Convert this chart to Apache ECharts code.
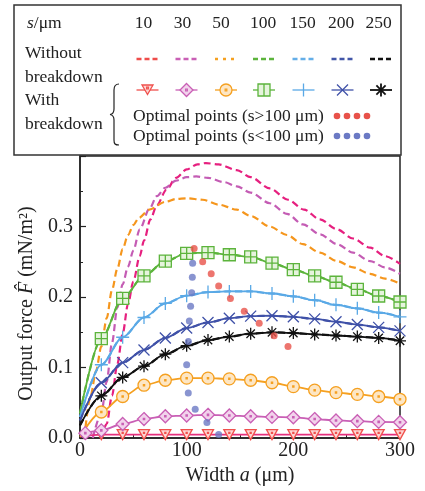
<!DOCTYPE html>
<html>
<head>
<meta charset="utf-8">
<script src="https://cdn.jsdelivr.net/npm/echarts@6/dist/echarts.min.js"></script>
<style>
  html, body { margin: 0; padding: 0; background: #fff; }
  #chart { width: 425px; height: 491px; }
</style>
</head>
<body>
<div id="chart"></div>
<script>
// ---------------- data ----------------
// Gap s between electrodes (µm)
const gapLabels = ['10', '30', '50', '100', '150', '200', '250'];

// Electrode width a (µm) sampled for the breakdown-limited curves
const widthA = [0, 20, 40, 60, 80, 100, 120, 140, 160, 180, 200, 220, 240, 260, 280, 300];
const widthA30 = [5, 20, 40, 60, 80, 100, 120, 140, 160, 180, 200, 220, 240, 260, 280, 300];

// Output force with breakdown (mN/m^2)
const forceBd10  = [0.002, 0.005, 0.005, 0.005, 0.005, 0.005, 0.005, 0.005, 0.005, 0.005, 0.005, 0.005, 0.005, 0.005, 0.005, 0.005];
const forceBd30  = [0.007, 0.011, 0.020, 0.027, 0.031, 0.032, 0.033, 0.032, 0.031, 0.030, 0.0295, 0.027, 0.025, 0.024, 0.023, 0.0225];
const forceBd50  = [0.002, 0.037, 0.059, 0.075, 0.082, 0.085, 0.085, 0.084, 0.082, 0.0785, 0.073, 0.068, 0.0645, 0.062, 0.059, 0.055];
const forceBd100 = [0.035, 0.141, 0.198, 0.230, 0.251, 0.262, 0.263, 0.260, 0.257, 0.248, 0.239, 0.230, 0.221, 0.211, 0.2015, 0.193];
const forceBd150 = [0.030, 0.104, 0.143, 0.171, 0.191, 0.202, 0.207, 0.208, 0.208, 0.205, 0.201, 0.1955, 0.189, 0.184, 0.178, 0.172];
const forceBd200 = [0.025, 0.0785, 0.107, 0.125, 0.142, 0.156, 0.164, 0.170, 0.173, 0.1735, 0.172, 0.169, 0.165, 0.161, 0.157, 0.152];
const forceBd250 = [0.018, 0.060, 0.086, 0.102, 0.119, 0.131, 0.139, 0.144, 0.148, 0.150, 0.149, 0.147, 0.1455, 0.144, 0.142, 0.138];

// Output force without breakdown for the small gaps (width a, force)
const noBdA10 = [20, 25, 30, 35, 40, 45, 50, 56, 60, 66, 72, 81, 90, 100, 110, 118, 130, 147, 160, 178, 195, 210, 225, 241, 256, 272, 286, 300];
const noBdF10 = [0.0, 0.02, 0.06, 0.105, 0.148, 0.19, 0.222, 0.258, 0.28, 0.31, 0.33, 0.352, 0.369, 0.381, 0.388, 0.390, 0.388, 0.380, 0.370, 0.354, 0.338, 0.324, 0.310, 0.296, 0.283, 0.270, 0.258, 0.247];
const noBdA30 = [12, 20, 25, 30, 35, 40, 45, 50, 56, 65, 72, 80, 90, 100, 109, 120, 135, 147, 160, 178, 194, 209, 225, 241, 256, 272, 286, 300];
const noBdF30 = [0.0, 0.035, 0.08, 0.135, 0.185, 0.218, 0.243, 0.266, 0.296, 0.325, 0.343, 0.355, 0.365, 0.370, 0.371, 0.369, 0.363, 0.357, 0.348, 0.333, 0.318, 0.303, 0.289, 0.275, 0.263, 0.251, 0.242, 0.233];
const noBdA50 = [4, 10, 15, 20, 25, 30, 35, 40, 45, 50, 55, 65, 80, 90, 100, 115, 130, 147, 160, 178, 194, 209, 225, 241, 256, 272, 286, 300];
const noBdF50 = [0.0, 0.06, 0.095, 0.13, 0.17, 0.21, 0.24, 0.268, 0.288, 0.302, 0.312, 0.324, 0.335, 0.339, 0.340, 0.338, 0.331, 0.324, 0.315, 0.300, 0.288, 0.275, 0.263, 0.251, 0.242, 0.233, 0.226, 0.219];

// Optimal points (width a, force)
const optHighA = [107, 115, 123, 130, 141, 154, 168, 182, 195];
const optHighF = [0.269, 0.250, 0.233, 0.2155, 0.198, 0.180, 0.163, 0.145, 0.130];
const optLowA  = [105.6, 105.3, 104.7, 103.7, 102.5, 101.6, 100, 101.5, 108, 119, 130];
const optLowF  = [0.248, 0.228, 0.206, 0.187, 0.166, 0.137, 0.104, 0.064, 0.041, 0.022, 0.005];

// Axis ticks
const xTicks = [0, 100, 200, 300];
const yTicks = [0.0, 0.1, 0.2, 0.3, 0.4];

// ---------------- styles ----------------
const FONT = "'Liberation Serif', 'Times New Roman', serif";
const INK = '#222';

const plotDashColors   = ['#e6207f', '#c45cb4', '#f5961d', '#5cb43c', '#5aa9e6', '#3f51a8', '#111111'];
const legendDashColors = ['#ef4c4a', '#c95fb5', '#f5a020', '#5cb43c', '#64aee8', '#4256a8', '#111111'];
const lineColors   = ['#e5307f', '#c95fb5', '#f5a020', '#5cb43c', '#5aa9e6', '#3f51a8', '#111111'];
const markerColors = ['#f0504c', '#c95fb5', '#f5a020', '#5cb43c', '#5aa9e6', '#3f51a8', '#111111'];
const markerFills  = ['#fcd6d4', '#f2d3ec', '#fde6c4', '#e6f4dd', 'transparent', 'transparent', 'transparent'];
const markerKinds  = ['tri', 'diamond', 'circle', 'square', 'plus', 'cross', 'star'];

const SYMBOL_PATH = {
  tri:     'path://M0,0L20,0L10,17Z M9.1,4.8L10.9,4.8L10.9,6.6L9.1,6.6Z',
  diamond: 'path://M10,0L20,10L10,20L0,10Z M9,9L11,9L11,11L9,11Z',
  circle:  'path://M0,10A10,10,0,1,1,20,10A10,10,0,1,1,0,10Z M9,9L11,9L11,11L9,11Z',
  square:  'path://M0,0L20,0L20,20L0,20Z M10,0L10,20 M0,10L20,10',
  plus:    'path://M10,0L10,20 M0,10L20,10',
  cross:   'path://M0,0L20,20 M20,0L0,20',
  star:    'path://M10,0L10,20 M0,10L20,10 M3,3L17,17 M17,3L3,17'
};
const SYMBOL_SIZE = {
  tri: [11, 10], diamond: 13, circle: 12, square: 12, plus: 13, cross: 11, star: 12
};

// ---------------- series ----------------
const bdX = [widthA, widthA30, widthA, widthA, widthA, widthA, widthA];
const bdY = [forceBd10, forceBd30, forceBd50, forceBd100, forceBd150, forceBd200, forceBd250];
const noBdX = [noBdA10, noBdA30, noBdA50, widthA, widthA, widthA, widthA];
const noBdY = [noBdF10, noBdF30, noBdF50, forceBd100, forceBd150, forceBd200, forceBd250];

const zip = (xs, ys) => xs.map((x, i) => [x, ys[i]]);

const series = [];

gapLabels.forEach((g, i) => {
  series.push({
    name: 's = ' + g + ' μm, without breakdown',
    type: 'line',
    data: zip(noBdX[i], noBdY[i]),
    showSymbol: false,
    symbol: 'none',
    smooth: 0.3,
    smoothMonotone: 'x',
    lineStyle: { color: plotDashColors[i], width: 2.2, type: [7, 4] },
    itemStyle: { color: plotDashColors[i] },
    z: 2,
    silent: true
  });
});

gapLabels.forEach((g, i) => {
  const kind = markerKinds[i];
  const data = zip(bdX[i], bdY[i]).map((p, k) =>
    (k === 0 && p[0] === 0) ? { value: p, symbol: 'none' } : p);
  series.push({
    name: 's = ' + g + ' μm, with breakdown',
    type: 'line',
    data: data,
    symbol: SYMBOL_PATH[kind],
    symbolSize: SYMBOL_SIZE[kind],
    showAllSymbol: true,
    smooth: 0.3,
    smoothMonotone: 'x',
    lineStyle: { color: lineColors[i], width: 1.8 },
    itemStyle: { color: markerFills[i], borderColor: markerColors[i], borderWidth: 1.3 },
    z: 3,
    silent: true
  });
});

series.push({
  name: 'Optimal points (s>100 μm)',
  type: 'scatter',
  data: zip(optHighA, optHighF),
  symbol: 'circle',
  symbolSize: 7,
  itemStyle: { color: '#e8524a' },
  z: 4,
  silent: true
});
series.push({
  name: 'Optimal points (s<100 μm)',
  type: 'scatter',
  data: zip(optLowA, optLowF),
  symbol: 'circle',
  symbolSize: 7,
  itemStyle: { color: '#6b79c4' },
  z: 4,
  silent: true
});

// ---------------- legend table (graphic) ----------------
const LFS = 17.5;
const textStyle = (extra) => Object.assign({
  fontSize: LFS, fontFamily: FONT, fill: INK, verticalAlign: 'middle'
}, extra);

const legend = [];
legend.push({
  type: 'rect', shape: { x: 14, y: 5, width: 387, height: 150 },
  style: { fill: '#fff', stroke: '#333', lineWidth: 1.5 }, z: 10
});
legend.push({
  type: 'text', x: 27, y: 23, z: 11,
  style: textStyle({
    text: '{i|s}/μm', align: 'left',
    rich: { i: { fontStyle: 'italic', fontSize: LFS, fontFamily: FONT, fill: INK } }
  })
});
const headerX = [143.5, 182.5, 221, 263, 302.5, 341, 378.5];
const sampleX = [147.5, 186.5, 226, 264, 303.5, 342.5, 381];
gapLabels.forEach((g, i) => {
  legend.push({ type: 'text', x: headerX[i], y: 23, z: 11, style: textStyle({ text: g, align: 'center' }) });
});
[['Without', 53], ['breakdown', 77], ['With', 100], ['breakdown', 124]].forEach(([t, y]) => {
  legend.push({ type: 'text', x: 25, y: y, z: 11, style: textStyle({ text: t, align: 'left' }) });
});

// dashed samples
gapLabels.forEach((g, i) => {
  legend.push({
    type: 'line', z: 11,
    shape: { x1: sampleX[i] - 11, y1: 59, x2: sampleX[i] + 11, y2: 59 },
    style: { stroke: legendDashColors[i], lineWidth: 2.3, lineDash: i === 2 ? [3, 5] : [5, 3] }
  });
});

// marker samples
function markerEls(kind, cx, cy, stroke, fill) {
  const st = { stroke: stroke, lineWidth: 1.3, fill: fill };
  const ln = (x1, y1, x2, y2) => ({ type: 'line', z: 12, shape: { x1, y1, x2, y2 }, style: { stroke: stroke, lineWidth: 1.3 } });
  const dot = (x, y) => ({ type: 'rect', z: 13, shape: { x: x - 0.9, y: y - 0.9, width: 1.8, height: 1.8 }, style: { fill: fill, stroke: stroke, lineWidth: 1.1 } });
  const els = [ln(cx - 11, cy, cx + 11, cy)];
  if (kind === 'tri') {
    els.push({ type: 'polygon', z: 12, shape: { points: [[cx - 5.5, cy - 5], [cx + 5.5, cy - 5], [cx, cy + 4.5]] }, style: st });
    els.push(dot(cx, cy - 2));
  } else if (kind === 'diamond') {
    els.push({ type: 'polygon', z: 12, shape: { points: [[cx, cy - 6.5], [cx + 6.5, cy], [cx, cy + 6.5], [cx - 6.5, cy]] }, style: st });
    els.push(dot(cx, cy));
  } else if (kind === 'circle') {
    els.push({ type: 'circle', z: 12, shape: { cx: cx, cy: cy, r: 6 }, style: st });
    els.push(dot(cx, cy));
  } else if (kind === 'square') {
    els.push({ type: 'rect', z: 12, shape: { x: cx - 6, y: cy - 6, width: 12, height: 12 }, style: st });
    els.push(ln(cx, cy - 6, cx, cy + 6));
  } else if (kind === 'plus') {
    els.push(ln(cx, cy - 6.5, cx, cy + 6.5));
  } else if (kind === 'cross') {
    els.push(ln(cx - 5.5, cy - 5.5, cx + 5.5, cy + 5.5), ln(cx + 5.5, cy - 5.5, cx - 5.5, cy + 5.5));
  } else if (kind === 'star') {
    els.push(ln(cx, cy - 6.5, cx, cy + 6.5), ln(cx - 4.6, cy - 4.6, cx + 4.6, cy + 4.6), ln(cx + 4.6, cy - 4.6, cx - 4.6, cy + 4.6));
    els.forEach(e => { if (e.style) e.style.lineWidth = 1.8; });
  }
  return els;
}
gapLabels.forEach((g, i) => {
  markerEls(markerKinds[i], sampleX[i], 90, markerColors[i], markerFills[i]).forEach(e => legend.push(e));
});

// brace grouping the "with breakdown" rows
const braceStyle = { stroke: INK, lineWidth: 1.2, fill: 'none' };
legend.push(
  { type: 'bezierCurve', z: 11, shape: { x1: 119, y1: 84, cpx1: 115, cpy1: 84, cpx2: 114, cpy2: 86, x2: 114, y2: 90 }, style: braceStyle },
  { type: 'line', z: 11, shape: { x1: 114, y1: 90, x2: 114, y2: 109 }, style: braceStyle },
  { type: 'bezierCurve', z: 11, shape: { x1: 114, y1: 109, cpx1: 114, cpy1: 112, cpx2: 113, cpy2: 114, x2: 110, y2: 114.5 }, style: braceStyle },
  { type: 'bezierCurve', z: 11, shape: { x1: 110, y1: 114.5, cpx1: 113, cpy1: 115, cpx2: 114, cpy2: 117, x2: 114, y2: 120 }, style: braceStyle },
  { type: 'line', z: 11, shape: { x1: 114, y1: 120, x2: 114, y2: 140 }, style: braceStyle },
  { type: 'bezierCurve', z: 11, shape: { x1: 114, y1: 140, cpx1: 114, cpy1: 144, cpx2: 115, cpy2: 145, x2: 119, y2: 145 }, style: braceStyle }
);

// optimal-point rows
[['Optimal points (s>100 μm)', 116, '#e8524a'], ['Optimal points (s<100 μm)', 136, '#6b79c4']].forEach(([t, y, c]) => {
  legend.push({ type: 'text', x: 133, y: y, z: 11, style: textStyle({ text: t, align: 'left' }) });
  [337, 347, 357, 367].forEach(x => {
    legend.push({ type: 'circle', z: 11, shape: { cx: x, cy: y, r: 3.3 }, style: { fill: c } });
  });
});

// ---------------- chart ----------------
const chart = echarts.init(document.getElementById('chart'), null, { renderer: 'canvas' });
const axisFont = { fontFamily: FONT, fontSize: 20, color: INK };

chart.setOption({
  animation: false,
  backgroundColor: '#fff',
  grid: { left: 80, right: 25, top: 156, bottom: 50, show: true, borderColor: INK, borderWidth: 1.5, backgroundColor: 'transparent' },
  xAxis: {
    type: 'value',
    min: xTicks[0], max: xTicks[xTicks.length - 1], interval: xTicks[1] - xTicks[0],
    axisLine: { show: true, onZero: false, lineStyle: { color: INK, width: 1.5 } },
    axisTick: { show: true, inside: true, length: 5, lineStyle: { color: INK, width: 1.2 } },
    minorTick: { show: true, splitNumber: 2, length: 3, lineStyle: { color: INK, width: 1 } },
    splitLine: { show: false },
    axisLabel: Object.assign({ margin: 3 }, axisFont),
    name: 'Width {i|a} (μm)',
    nameLocation: 'middle',
    nameGap: 22,
    nameTextStyle: Object.assign({
      rich: { i: { fontStyle: 'italic', fontFamily: FONT, fontSize: 20, color: INK } }
    }, axisFont)
  },
  yAxis: {
    type: 'value',
    min: yTicks[0], max: yTicks[yTicks.length - 1], interval: yTicks[1] - yTicks[0],
    axisLine: { show: true, onZero: false, lineStyle: { color: INK, width: 1.5 } },
    axisTick: { show: true, inside: true, length: 6, lineStyle: { color: INK, width: 1.2 } },
    minorTick: { show: true, splitNumber: 2, length: 3, lineStyle: { color: INK, width: 1 } },
    splitLine: { show: false },
    axisLabel: Object.assign({
      margin: 7,
      formatter: v => (v >= yTicks[yTicks.length - 1] - 1e-9 ? '' : v.toFixed(1))
    }, axisFont),
    name: 'Output force {i|F\u0302} (mN/m\u00B2)',
    nameLocation: 'middle',
    nameGap: 35,
    nameTextStyle: Object.assign({
      padding: [0, 13, 0, 0],
      rich: { i: { fontStyle: 'italic', fontFamily: FONT, fontSize: 20, color: INK } }
    }, axisFont)
  },
  series: series,
  graphic: { elements: legend }
});
</script>
</body>
</html>
